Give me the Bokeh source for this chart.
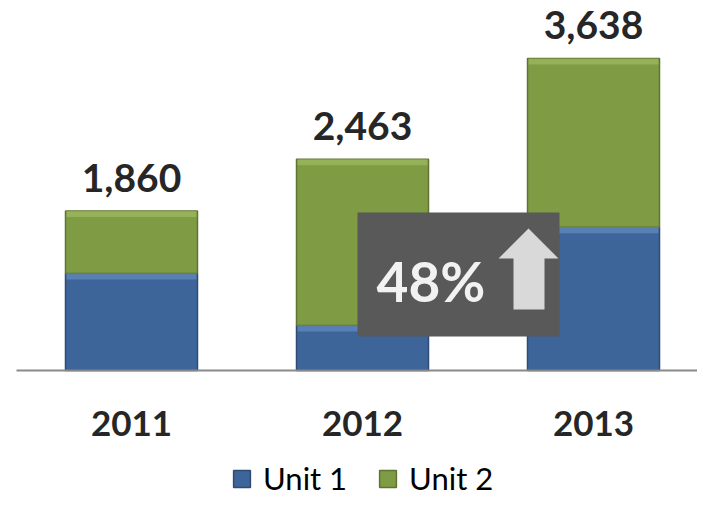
from bokeh.plotting import figure
from bokeh.models import ColumnDataSource, Range1d
from bokeh.core.properties import value
from bokeh.embed import file_html
from bokeh.resources import INLINE

# ---- data ----
years = ["2011", "2012", "2013"]
series = ["Unit 1", "Unit 2"]
unit1 = [1130, 525, 1670]
unit2 = [730, 1938, 1968]

totals = [a + b for a, b in zip(unit1, unit2)]
growth = round((totals[2] - totals[1]) / totals[1] * 100)

# ---- geometry ----
W, H = 697, 505
PXX = 231.0      # px per category step
UPY = 11.66      # data units per px (y)
X0 = 131         # px of first bar centre
Y0 = 370         # px of baseline (from top)

x_start = -X0 / PXX
x_end = x_start + W / PXX
y_end = Y0 * UPY
y_start = -(H - Y0) * UPY


def xd(sx):  # px -> data x
    return (sx - X0) / PXX


def yd(sy):  # px -> data y
    return (Y0 - sy) * UPY


BLUE, DBLUE, LBLUE = "#3e659a", "#2c4b75", "#6a92c8"
GREEN, DGREEN, LGREEN = "#7f9b44", "#5e7431", "#a5c266"

xs = list(range(len(years)))
hl = 6 * UPY
src = ColumnDataSource(dict(
    x=xs, year=years, u1=unit1, u2=unit2, total=totals,
    label=[f"{t:,}" for t in totals],
    u1_hl=[v - hl for v in unit1],
    tot_hl=[t - hl for t in totals],
))

p = figure(width=W, height=H, x_range=Range1d(x_start, x_end),
           y_range=Range1d(y_start, y_end), output_backend="svg",
           toolbar_location=None, min_border=0,
           x_axis_location=None, y_axis_location=None)
p.grid.visible = False
p.outline_line_color = None
p.background_fill_color = "white"

BW = 132 / PXX
p.vbar_stack(["u1", "u2"], x="x", width=BW, source=src,
             fill_color=[BLUE, GREEN], line_color=[DBLUE, DGREEN],
             line_width=1.5, legend_label=series)

# bevel highlights
p.vbar(x="x", top="u1", bottom="u1_hl", width=BW - 2 / PXX, source=src,
       fill_color=LBLUE, fill_alpha=0.6, line_color=None)
p.vbar(x="x", top="total", bottom="tot_hl", width=BW - 2 / PXX, source=src,
       fill_color=LGREEN, fill_alpha=0.6, line_color=None)

# baseline
p.segment(x0=xd(16), y0=0, x1=x_end, y1=0, line_color="#898989", line_width=2)

# totals
p.text(x="x", y="total", text="label", source=src, text_align="center",
       text_baseline="alphabetic", y_offset=-33, text_font=value("Lato"),
       text_font_style="bold", text_font_size="39px", text_color="#262626")

# year labels
p.text(x="x", y=0, text="year", source=src, text_align="center",
       text_baseline="alphabetic", y_offset=53, text_font=value("Lato"),
       text_font_style="bold", text_font_size="35px", text_color="#262626")

# growth callout
p.quad(left=xd(357), right=xd(559), top=yd(212), bottom=yd(336),
       fill_color="#595959", line_color=None)
p.text(x=[xd(376)], y=[yd(298)], text=[f"{growth}%"], text_align="left",
       text_baseline="alphabetic", y_offset=-18, text_font=value("Lato"),
       text_font_style="bold", text_font_size="55px", text_color="#f2f2f2")
ax = [528, 558, 544, 544, 513, 513, 498]
ay = [228, 258, 258, 309, 309, 258, 258]
p.patch([xd(v) for v in ax], [yd(v) for v in ay], fill_color="#d9d9d9",
        line_color=None)

lg = p.legend[0]
lg.orientation = "horizontal"
lg.location = (231, 8)
lg.label_text_font = "Lato"
lg.label_text_font_size = "31px"
lg.label_text_color = "#000000"
lg.glyph_width = 21
lg.glyph_height = 21
lg.label_standoff = 11
lg.spacing = 30
lg.padding = 0
lg.margin = 0
lg.border_line_color = None
lg.background_fill_alpha = 0

open("out.html", "w").write(file_html(p, INLINE))
